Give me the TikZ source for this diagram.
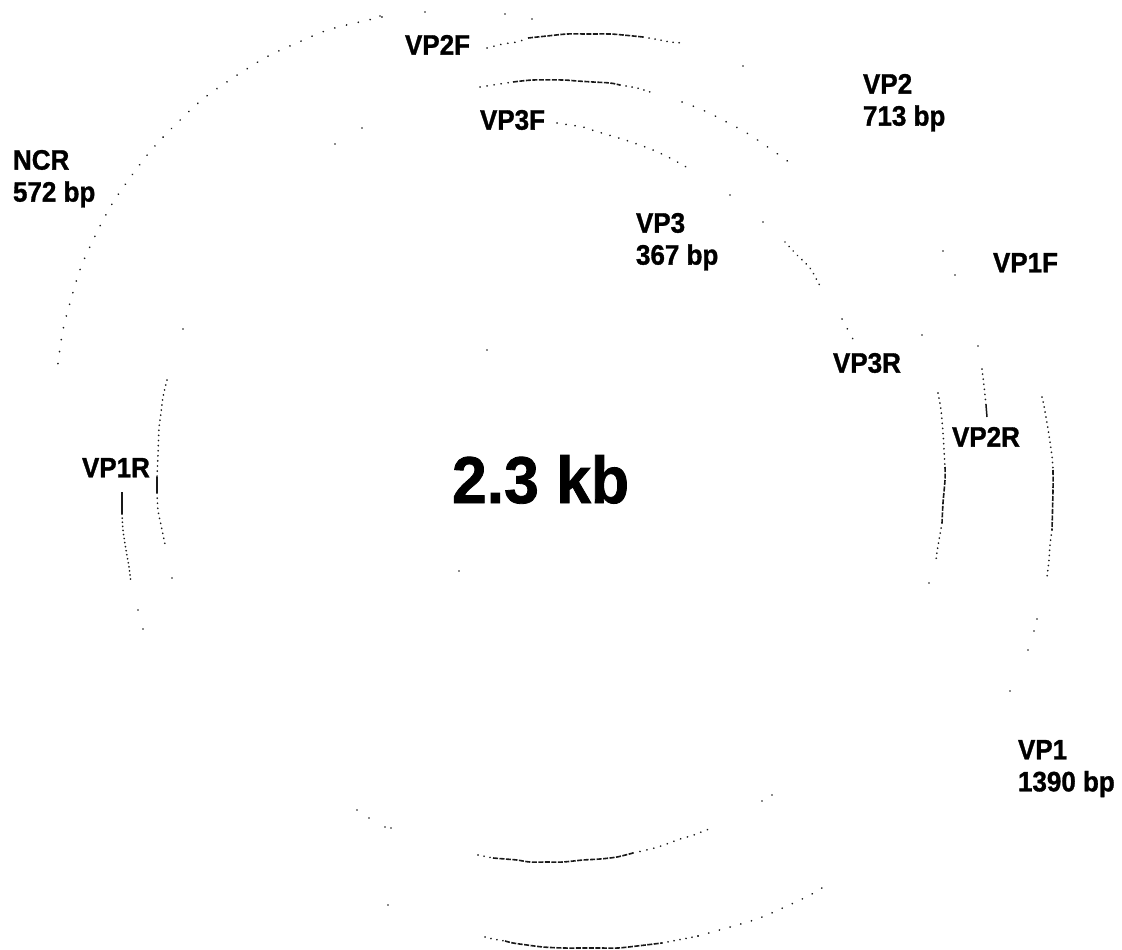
\documentclass[tikz,border=0pt]{standalone}
\usepackage{fontspec}
\setmainfont[BoldFeatures={FakeBold=1.2}]{Liberation Sans}
\usepackage{graphicx}
\newcommand\tallt[1]{\scalebox{1}[1.08]{#1}}
\newcommand\talltb[1]{\scalebox{1}[1.06]{#1}}
\begin{document}
\begin{tikzpicture}[x=1pt,y=-1pt,
  lab/.style={anchor=north west, inner sep=0pt, outer sep=0pt, align=left, font=\fontsize{26}{32}\selectfont\bfseries},
  bigl/.style={anchor=north west, inner sep=0pt, outer sep=0pt, font=\fontsize{62.5}{70}\selectfont\bfseries},
  ring/.style={line width=1.8pt, draw=black!90, line cap=round},
  dotsA/.style={ring, dash pattern=on 0.1pt off #1},
  dotsA/.default=6pt,
  dashA/.style={line width=1.6pt, draw=black!90, dash pattern=on 5pt off 1.5pt},
  solidA/.style={line width=1.5pt, draw=black!90},
  spot/.style={fill=black!90}
]
\useasboundingbox (0,0) rectangle (1122,950);
\fill[white] (0,0) rectangle (1122,950);

% ---------- outer NCR arc (top left)
\foreach \x/\y in {380/16,425/12,505/14,532/19}
  \fill[spot] (\x,\y) circle[radius=0.9pt];
\draw[dotsA=12pt] plot[smooth] coordinates {(382,17) (331,29) (299,42) (263,59) (208,95) (172,128) (148,154) (127,182) (112,204) (98,230) (81,267) (68,310) (62,335) (57,371)};

% ---------- VP2F arc (outer top)
\draw[dotsA=7pt] plot[smooth] coordinates {(487,48) (503,44) (517,42) (528,38)};
\draw[dashA] plot[smooth] coordinates {(528,38) (547,36) (567,34) (587,34) (610,34) (623,35) (643,37)};
\draw[dotsA=6pt] plot[smooth] coordinates {(643,37) (660,40) (670,42) (682,43)};
\fill[spot] (743,66) circle[radius=0.9pt];

% ---------- inner ring, top (VP3F arc)
\foreach \x/\y in {335/144,362/128}
  \fill[spot] (\x,\y) circle[radius=0.9pt];
\draw[dotsA=7pt] plot[smooth] coordinates {(480,87) (493,85) (513,82)};
\draw[dashA] plot[smooth] coordinates {(513,82) (533,80) (563,80) (577,81) (593,82) (610,83) (620,85)};
\draw[dotsA=6pt] plot[smooth] coordinates {(620,85) (637,88) (647,91) (653,93)};
\draw[dotsA=12pt] plot[smooth] coordinates {(682,102) (707,112) (745,132) (772,150) (793,165)};

% ---------- VP3 arc
\draw[dotsA=9pt] plot[smooth] coordinates {(557,123) (570,125) (583,127) (595,131) (622,139) (637,144) (653,150) (670,158) (688,168)};
\foreach \x/\y in {730/195,763/222}
  \fill[spot] (\x,\y) circle[radius=0.9pt];
\draw[dotsA=6pt] plot[smooth] coordinates {(785,242) (797,255) (810,268) (820,286)};
\draw[dotsA=11pt] plot[smooth] coordinates {(842,319) (848,330) (855,343)};

% ---------- inner ring, right side
\fill[spot] (922,335) circle[radius=0.9pt];
\draw[dotsA=5pt] plot[smooth] coordinates {(938,393) (941,410) (943,433) (944,450) (945,467)};
\draw[dashA] plot[smooth] coordinates {(945,467) (945,480) (943,503) (942,523)};
\draw[dotsA=5pt] plot[smooth] coordinates {(942,523) (939,540) (937,552) (936,560)};
\fill[spot] (929,583) circle[radius=0.9pt];

% ---------- outer ring, right side
\draw[dotsA=5pt] plot[smooth] coordinates {(1042,397) (1044,406) (1048,429) (1052,456) (1053,470)};
\draw[dashA] plot[smooth] coordinates {(1053,470) (1053,490) (1052,530)};
\draw[dotsA=5pt] plot[smooth] coordinates {(1052,530) (1050,545) (1049,560) (1047,577)};
\foreach \x/\y in {1037/619,1034/631,1028/650,1010/691}
  \fill[spot] (\x,\y) circle[radius=0.9pt];

% ---------- VP2R tick
\foreach \x/\y in {943/251,955/275,978/346}
  \fill[spot] (\x,\y) circle[radius=0.9pt];
\draw[dotsA=5pt] plot[smooth] coordinates {(982,369) (984,386) (986,405)};
\draw[solidA] (986,405) -- (987,417);

% ---------- VP1R tick (left outer)
\draw[solidA] (122,492) -- (122,514);
\draw[dotsA=4pt] plot[smooth] coordinates {(122,514) (123,530) (126,550) (129,567) (131,583)};
\foreach \x/\y in {138/610,143/629}
  \fill[spot] (\x,\y) circle[radius=0.9pt];

% ---------- inner ring, left side
\fill[spot] (183,329) circle[radius=0.9pt];
\draw[dotsA=5pt] plot[smooth] coordinates {(167,380) (163,397) (161,413) (159,428) (158,455) (157,477)};
\draw[solidA] (157,477) -- (157,493);
\draw[dotsA=5pt] plot[smooth] coordinates {(157,493) (158,510) (161,525) (165,544)};
\fill[spot] (172,578) circle[radius=0.9pt];

% ---------- inner ring, bottom
\foreach \x/\y in {357/810,369/818,385/827,391/828}
  \fill[spot] (\x,\y) circle[radius=0.9pt];
\draw[dotsA=6pt] plot[smooth] coordinates {(478,855) (493,858)};
\draw[dashA] plot[smooth] coordinates {(493,858) (505,859) (517,860) (530,862) (547,862) (563,862) (583,860) (600,859) (617,857) (633,853)};
\draw[dotsA=7pt] plot[smooth] coordinates {(633,853) (642,851) (658,847) (683,838) (691,836) (709,829)};
\foreach \x/\y in {762/801,772/795}
  \fill[spot] (\x,\y) circle[radius=0.9pt];

% ---------- outer ring, bottom
\fill[spot] (388,905) circle[radius=0.9pt];
\draw[dotsA=6pt] plot[smooth] coordinates {(485,937) (493,939) (505,941)};
\draw[dashA] plot[smooth] coordinates {(505,941) (513,943) (527,945) (543,947) (563,948) (583,948) (600,948) (618,948) (637,946) (662,943)};
\draw[dotsA=6pt] plot[smooth] coordinates {(662,943) (683,939) (698,936)};
\draw[dotsA=11pt] plot[smooth] coordinates {(698,936) (723,929) (757,919) (787,906) (810,895) (830,883)};

% ---------- innermost faint dots
\foreach \x/\y in {487/350,459/571}
  \fill[spot] (\x,\y) circle[radius=0.8pt];

% ---------- labels
\node[lab] (vp2f) at (405,35) {\tallt{VP2F}};
\node[lab] (vp3f) at (480,110) {\tallt{VP3F}};
\node[lab] (vp2) at (863,74) {\tallt{VP2}\\\tallt{713 bp}};
\node[lab] (ncr) at (13,150) {\tallt{NCR}\\\tallt{572 bp}};
\node[lab] (vp3) at (636,213) {\tallt{VP3}\\\tallt{367 bp}};
\node[lab] (vp1f) at (993,253) {\tallt{VP1F}};
\node[lab] (vp3r) at (833,353) {\tallt{VP3R}};
\node[lab] (vp2r) at (952,427) {\tallt{VP2R}};
\node[lab] (vp1r) at (82,458) {\tallt{VP1R}};
\node[bigl] (size) at (452,455) {\talltb{2.3 kb}};
\node[lab] (vp1) at (1018,740) {\tallt{VP1}\\\tallt{1390 bp}};
\end{tikzpicture}
\end{document}
